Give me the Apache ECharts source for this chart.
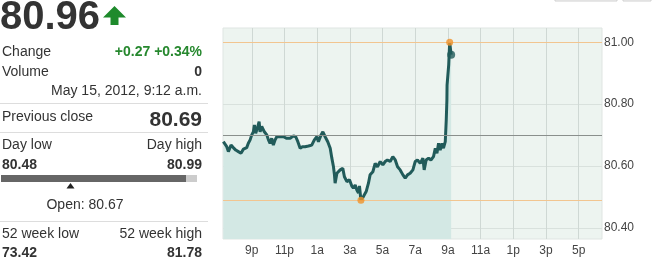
<!DOCTYPE html>
<html>
<head>
<meta charset="utf-8">
<script src="https://cdn.jsdelivr.net/npm/echarts@6/dist/echarts.min.js"></script>
<style>
html,body{margin:0;padding:0;background:#fff;}
#c{width:665px;height:261px;}
</style>
</head>
<body>
<div id="c"></div>
<script>
// Time in decimal hours since midnight May 14, 2012 (24 = midnight May 15)
var times = [19.26,19.47,19.57,19.73,19.87,20.02,20.18,20.34,20.49,20.69,20.79,20.90,21.00,21.10,21.16,21.24,21.34,21.45,21.51,21.61,21.77,21.92,22.02,22.12,22.22,22.32,22.43,22.53,22.63,22.79,22.94,23.14,23.35,23.55,23.69,23.82,23.96,24.10,24.26,24.47,24.67,24.83,24.98,25.08,25.24,25.35,25.49,25.65,25.80,25.90,26.00,26.06,26.10,26.21,26.41,26.57,26.67,26.82,26.98,27.12,27.22,27.33,27.43,27.53,27.59,27.68,27.83,28.00,28.14,28.24,28.41,28.55,28.69,28.86,29.02,29.16,29.30,29.47,29.63,29.78,29.92,30.08,30.25,30.39,30.53,30.69,30.86,31.00,31.14,31.31,31.47,31.55,31.67,31.82,31.96,32.12,32.23,32.33,32.43,32.53,32.64,32.73,32.84,32.90,32.94,32.95,33.05,33.11,33.20];
var prices = [80.669,80.653,80.637,80.658,80.650,80.642,80.637,80.632,80.645,80.650,80.664,80.675,80.691,80.701,80.723,80.696,80.712,80.734,80.701,80.718,80.701,80.691,80.675,80.664,80.680,80.658,80.675,80.685,80.691,80.685,80.685,80.680,80.680,80.688,80.685,80.669,80.648,80.653,80.653,80.655,80.658,80.675,80.685,80.669,80.691,80.701,80.685,80.669,80.648,80.616,80.588,80.562,80.535,80.567,80.578,80.583,80.556,80.540,80.546,80.526,80.519,80.529,80.513,80.503,80.526,80.480,80.492,80.508,80.535,80.562,80.572,80.599,80.588,80.605,80.594,80.605,80.610,80.605,80.621,80.610,80.588,80.578,80.562,80.551,80.562,80.567,80.578,80.605,80.610,80.599,80.616,80.578,80.610,80.616,80.610,80.621,80.648,80.632,80.664,80.642,80.664,80.648,80.669,80.739,80.804,80.852,80.917,80.990,80.950];

var xTickHours = [21,23,25,27,29,31,33,35,37,39,41];
var xTickLabels = ['9p','11p','1a','3a','5a','7a','9a','11a','1p','3p','5p'];
var yTickValues = [80.40,80.60,80.80,81.00];

var lastPrice = 80.96, prevClose = 80.69, dayLow = 80.48, dayHigh = 80.99, openPrice = 80.67;
var lowTime = 27.68, highTime = 33.11, lastTime = 33.20;
var week52Low = 73.42, week52High = 81.78;
var changeText = '+0.27 +0.34%', volumeText = '0', stampText = 'May 15, 2012, 9:12 a.m.';

var F = '"Liberation Sans", Arial, sans-serif';
var dark = '#333333';
var lineData = times.map(function(t,i){return [t, prices[i]];});
var labelMap = {};
xTickHours.forEach(function(h,i){labelMap[h]=xTickLabels[i];});

function txt(x,y,s,font,fill,align){
  return {type:'text', x:x, y:y, silent:true,
    style:{text:s, font:font, fill:fill||dark, textAlign:align||'left', textVerticalAlign:'middle'}};
}

var chart = echarts.init(document.getElementById('c'), null, {renderer:'canvas'});
chart.setOption({
  animation:false,
  backgroundColor:'#ffffff',
  grid:{left:223, top:28, right:63, bottom:22, show:true, backgroundColor:'#edf4f0', borderColor:'#dfe5e2', borderWidth:1},
  xAxis:{type:'value', min:19.24, max:42.43,
    axisLine:{show:false}, axisTick:{show:false, customValues:xTickHours},
    axisLabel:{customValues:xTickHours, formatter:function(v){return labelMap[Math.round(v)]||'';}, color:'#444', fontFamily:F, fontSize:12, margin:6},
    splitLine:{show:true, lineStyle:{color:'#cfd8d4', width:1}}},
  yAxis:[
    {type:'value', position:'right', min:80.364, max:81.046,
      axisLine:{show:false}, axisTick:{show:false, customValues:yTickValues},
      axisLabel:{customValues:yTickValues, formatter:function(v){return v.toFixed(2);}, color:'#444', fontFamily:F, fontSize:12, margin:2},
      splitLine:{show:true, lineStyle:{color:'#d9e1dd', width:1}}},
    {type:'value', position:'right', min:80.355, max:81.036, show:false, splitLine:{show:false}}
  ],
  series:[
    {type:'line', yAxisIndex:1, data:lineData, showSymbol:false, symbol:'none',
      lineStyle:{color:'#215b5a', width:3}, areaStyle:{color:'#d3e8e4', opacity:1, origin:'start'},
      z:3,
      markLine:{silent:true, symbol:'none', label:{show:false}, animation:false,
        data:[
          {yAxis:prevClose, lineStyle:{color:'#8a8f8c', width:1, type:'solid'}},
          {yAxis:dayLow, lineStyle:{color:'#f2c590', width:1, type:'solid'}},
          {yAxis:dayHigh, lineStyle:{color:'#f2c590', width:1, type:'solid'}}
        ]}},
    {type:'scatter', yAxisIndex:1, data:[[lowTime,dayLow],[highTime,dayHigh]], symbolSize:7,
      itemStyle:{color:'#f0922a'}, z:5},
    {type:'scatter', yAxisIndex:1, data:[[lastTime,prices[prices.length-1]]], symbolSize:8,
      itemStyle:{color:'#215b5a'}, z:6}
  ],
  graphic:[
    txt(0,18,lastPrice.toFixed(2),'bold 40px '+F,dark),
    {type:'polygon', silent:true, shape:{points:[[114.5,6],[126,17.5],[118.5,17.5],[118.5,25],[110.5,25],[110.5,17.5],[103,17.5]]}, style:{fill:'#1e8a2c'}},
    txt(2,52,'Change','14px '+F,dark),
    txt(202,52,changeText,'bold 14px '+F,'#26882e','right'),
    txt(2,72,'Volume','14px '+F,dark),
    txt(202,72,volumeText,'bold 14px '+F,dark,'right'),
    txt(202,91,stampText,'14px '+F,dark,'right'),
    {type:'rect', silent:true, shape:{x:0,y:103,width:208,height:1}, style:{fill:'#dddddd'}},
    txt(2,117,'Previous close','14px '+F,dark),
    txt(202,120,prevClose.toFixed(2),'bold 21px '+F,dark,'right'),
    {type:'rect', silent:true, shape:{x:0,y:132,width:208,height:1}, style:{fill:'#dddddd'}},
    txt(2,145.5,'Day low','14px '+F,dark),
    txt(202,145.5,'Day high','14px '+F,dark,'right'),
    txt(2,165,dayLow.toFixed(2),'bold 14px '+F,dark),
    txt(202,165,dayHigh.toFixed(2),'bold 14px '+F,dark,'right'),
    {type:'rect', silent:true, shape:{x:1,y:175,width:185,height:7}, style:{fill:'#666666'}},
    {type:'rect', silent:true, shape:{x:186,y:175,width:11,height:7}, style:{fill:'#cccccc'}},
    {type:'polygon', silent:true, shape:{points:[[70.5,183],[74.5,188.5],[66.5,188.5]]}, style:{fill:'#222222'}},
    txt(85,205.5,'Open: '+openPrice.toFixed(2),'14px '+F,dark,'center'),
    {type:'rect', silent:true, shape:{x:0,y:221,width:208,height:1}, style:{fill:'#dddddd'}},
    txt(2,234.5,'52 week low','14px '+F,dark),
    txt(202,234.5,'52 week high','14px '+F,dark,'right'),
    txt(2,253,week52Low.toFixed(2),'bold 14px '+F,dark),
    txt(202,253,week52High.toFixed(2),'bold 14px '+F,dark,'right'),
    {type:'text', silent:true, x:255, y:-9, style:{text:'p', font:'14px '+F, fill:'#555', textAlign:'left', textVerticalAlign:'middle'}},
    {type:'rect', silent:true, shape:{x:555,y:-20,width:62,height:21}, style:{fill:'#f6f6f6', stroke:'#cfcfcf', lineWidth:1}},
    {type:'rect', silent:true, shape:{x:623,y:-20,width:28,height:21}, style:{fill:'#f6f6f6', stroke:'#cfcfcf', lineWidth:1}}
  ]
});
</script>
</body>
</html>
